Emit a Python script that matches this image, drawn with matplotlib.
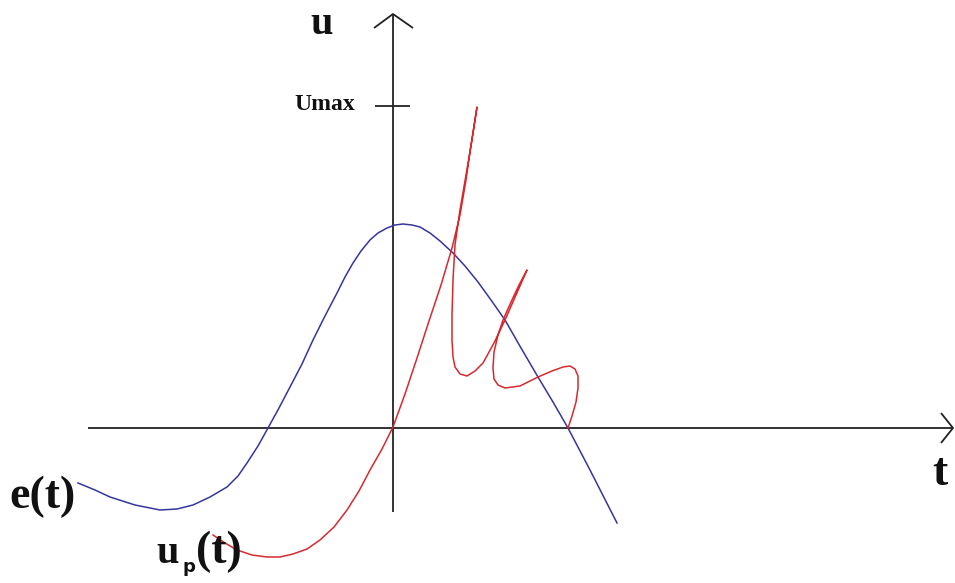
"""
Sketch of a source voltage e(t) and the resulting pulse voltage u_p(t)
against time, with the Umax level marked on the u axis.
"""
import matplotlib.pyplot as plt

# ── Curve data (t, u), arbitrary units ────────────────────────────────────────

E_T = [-315, -298, -283, -258, -233, -216, -200, -183, -166, -155,
       -146, -135, -125, -114, -103, -91, -80, -68, -56, -48,
       -40, -32, -23, -15, -6, 2, 10, 19, 27, 37,
       47, 60, 72, 85, 98, 112, 128, 145, 160, 175,
       197, 224]
E_U = [-55, -62, -69, -77, -82, -81, -77, -69, -59, -48,
       -35, -18, 0, 20, 41, 64, 88, 112, 135, 151,
       165, 177, 188, 195, 200, 203, 204, 203, 201, 195,
       187, 175, 162, 146, 128, 108, 80, 51, 26, 0,
       -42, -95]

# rising edge up to the first spike
UP_T = [-180, -168, -156, -141, -126, -113, -100, -86, -73, -59,
        -46, -34, -23, -11, 0, 12, 24, 36, 48, 59,
        67, 73, 78, 84,
        # decay of the first spike, second spike
        79, 73, 67, 62, 60, 59, 59, 60, 62, 67,
        74, 82, 90, 101, 112, 123, 134,
        # decay of the second spike back to the t axis
        126, 118, 110, 105, 101, 100, 101, 105, 112, 127,
        145, 159, 170, 177, 182, 185, 185, 183, 179, 175]
UP_U = [-107, -115, -122, -127, -129, -129, -126, -121, -112, -99,
        -82, -63, -42, -21, 1, 34, 70, 107, 143, 180,
        213, 248, 283, 321,
        288, 253, 218, 183, 148, 113, 88, 71, 61, 54,
        52, 57, 65, 85, 108, 133, 158,
        143, 126, 108, 93, 76, 60, 49, 43, 40, 42,
        51, 57, 61, 62, 59, 52, 40, 26, 12, 0]

U_MAX = 322

BLUE = '#35359e'
RED = '#d62a2e'
AXIS = '#222222'
INK = '#111111'
SERIF = ['Liberation Serif', 'DejaVu Serif']


def draw_axes(ax):
    """Hand-drawn style axes with open chevron arrowheads."""
    kw = dict(color=AXIS, lw=1.3, solid_capstyle='butt')
    ax.plot([-305, 560], [0, 0], **kw)
    ax.plot([548, 560, 548], [15, 0, -15], **kw)
    ax.plot([0, 0], [-84, 414], **kw)
    ax.plot([-19, 0, 20], [400, 414, 400], **kw)
    # Umax tick
    ax.plot([-18, 17], [U_MAX, U_MAX], **kw)


def label_up(ax):
    """u_p(t): serif u, small sans subscript p, serif (t)."""
    serif = dict(family=SERIF, weight='bold', color=INK, ha='left', va='baseline')
    ax.text(-237, -135, 'u', fontsize=29, **serif)
    ax.text(-211, -144, 'p', fontsize=13, family='DejaVu Sans', weight='bold',
            color=INK, ha='left', va='baseline')
    ax.text(-197, -135, '(t)', fontsize=33, **serif)


def main():
    fig = plt.figure(figsize=(9.55, 5.83), dpi=100)
    ax = fig.add_axes([0, 0, 1, 1])
    ax.set_xlim(-393, 562)
    ax.set_ylim(-155, 428)
    ax.axis('off')

    draw_axes(ax)
    ax.plot(E_T, E_U, color=BLUE, lw=1.1, solid_joinstyle='round')
    ax.plot(UP_T, UP_U, color=RED, lw=1.1, solid_joinstyle='round')

    txt = dict(family=SERIF, weight='bold', color=INK)
    ax.text(-71, 403, 'u', fontsize=29, ha='center', va='center', **txt)
    ax.text(-38, U_MAX + 2, 'Umax', fontsize=17, ha='right', va='center', **txt)
    ax.text(-384, -69, 'e(t)', fontsize=33, ha='left', va='center', **txt)
    label_up(ax)
    ax.text(547, -46, 't', fontsize=33, ha='center', va='center', **txt)

    fig.savefig('out.png', dpi=100)


if __name__ == '__main__':
    main()
